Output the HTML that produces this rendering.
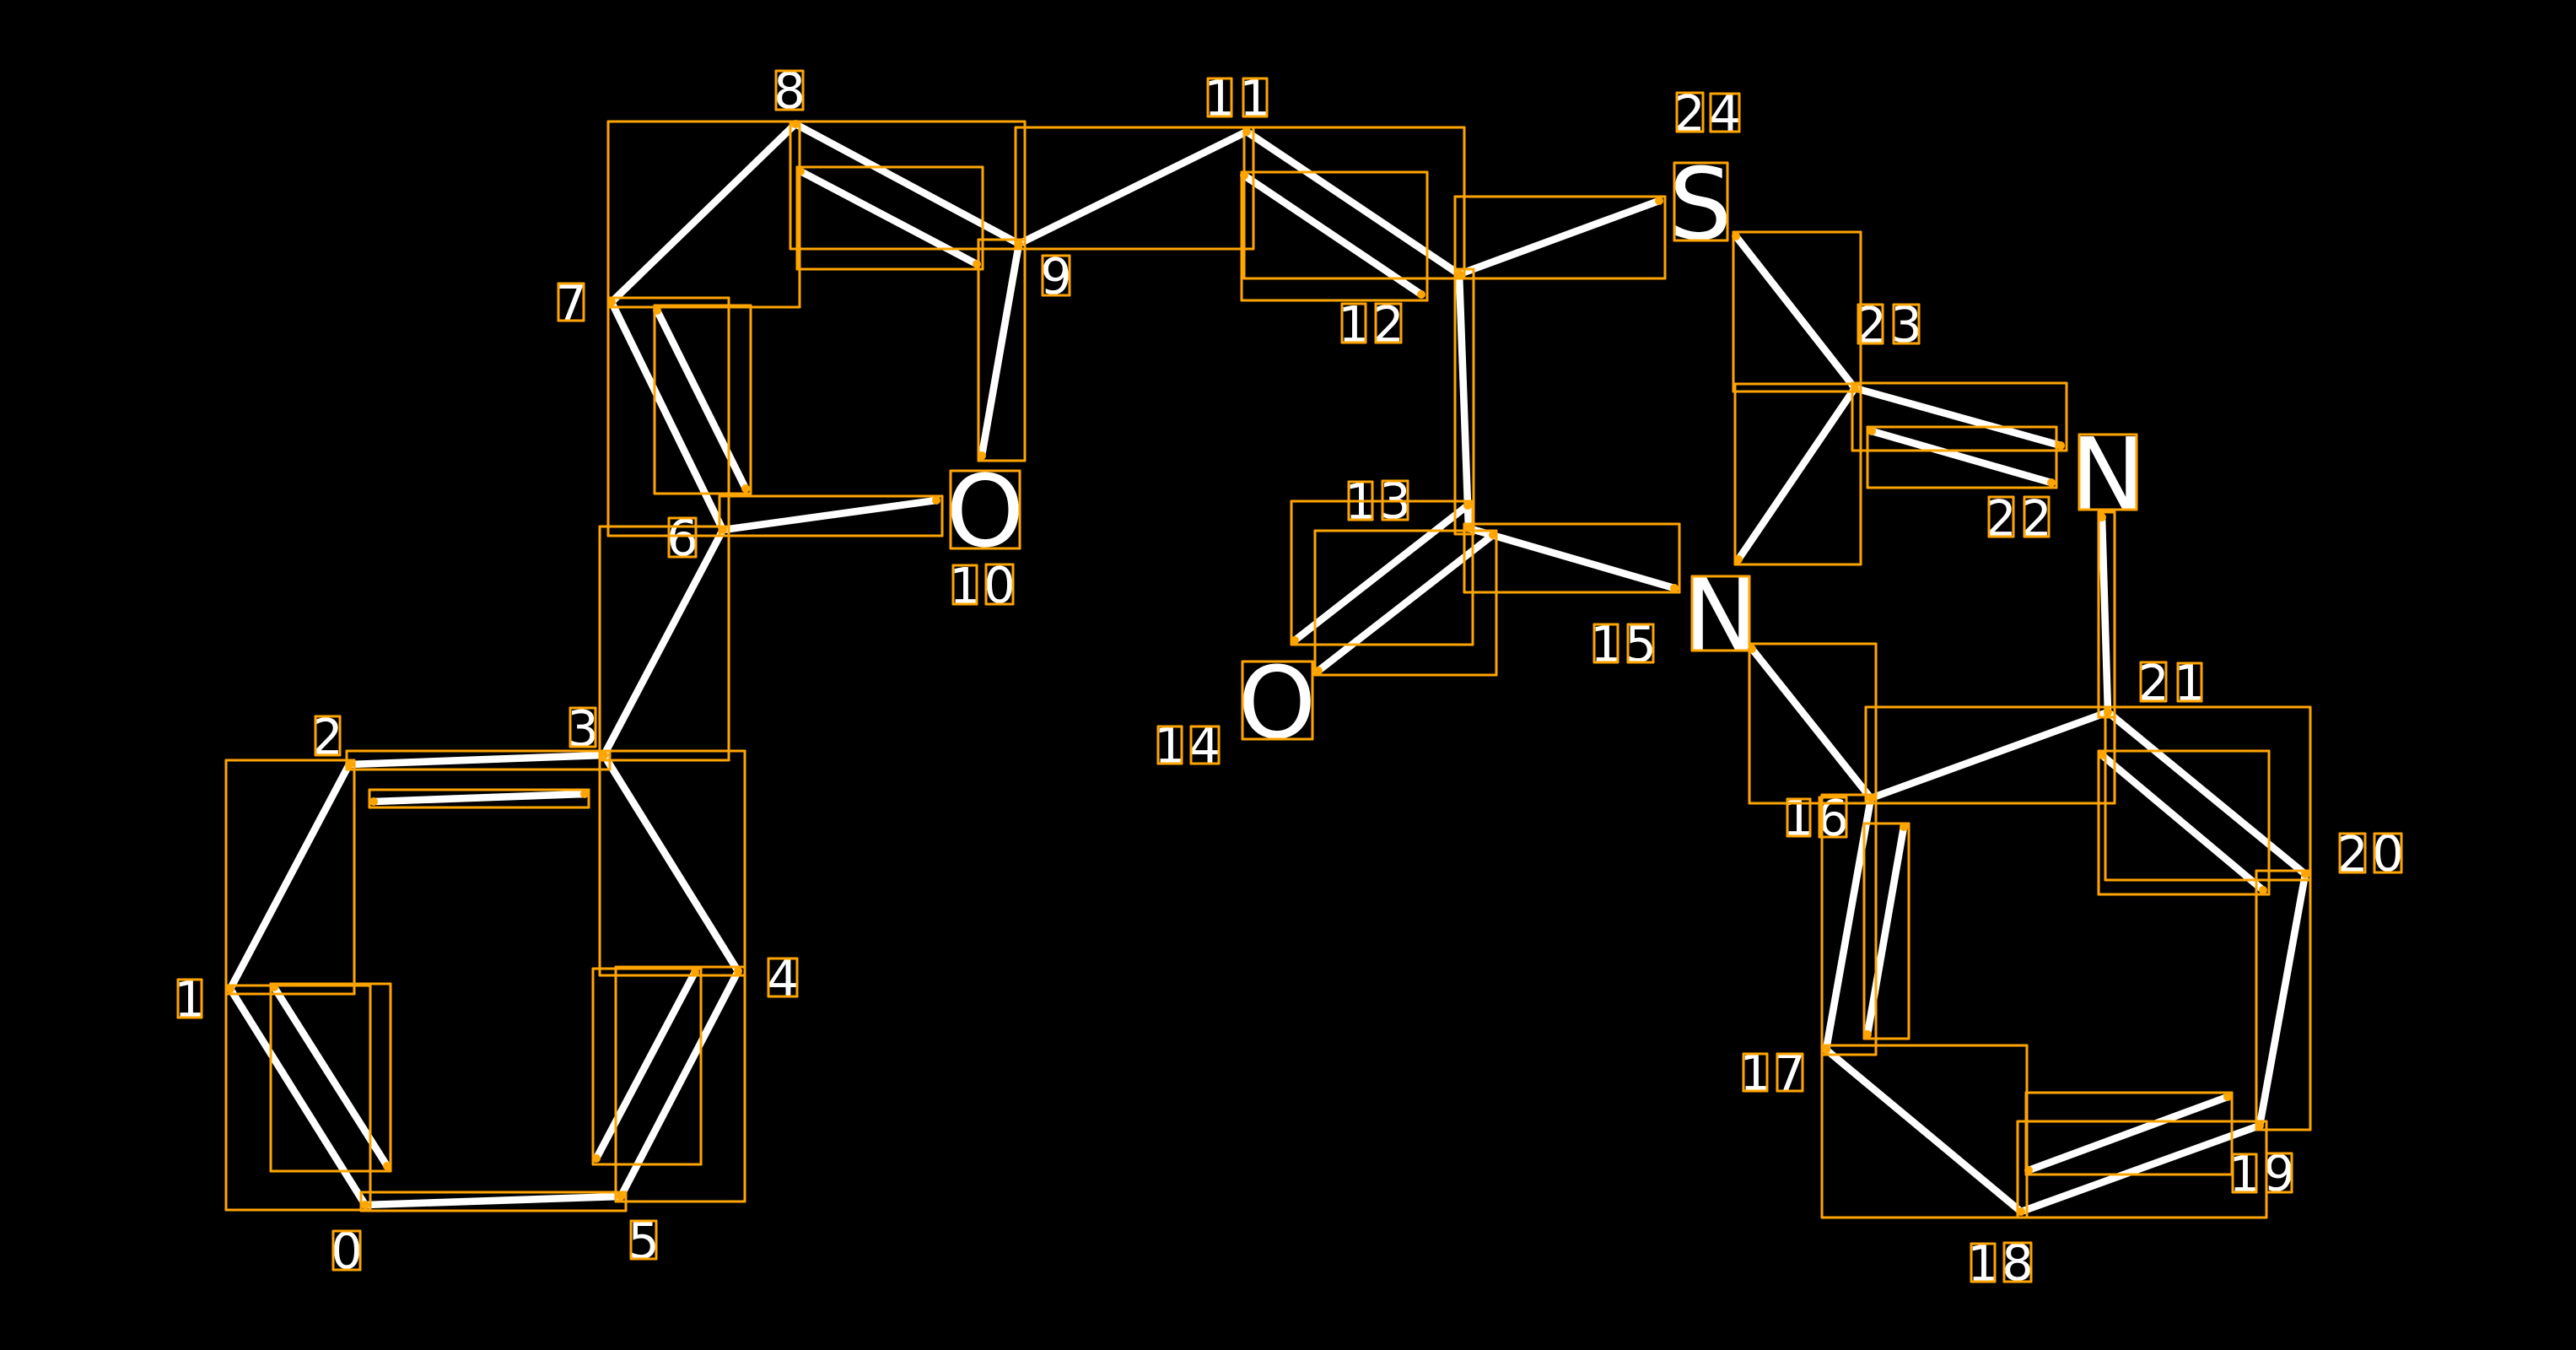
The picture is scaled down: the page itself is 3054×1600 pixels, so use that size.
<!DOCTYPE html>
<html><head><meta charset="utf-8"><style>
html,body{margin:0;padding:0;background:#000;width:3054px;height:1600px;overflow:hidden}
svg{display:block}
.l line{stroke:#fff;stroke-width:8.6;stroke-linecap:butt}
.r rect{fill:none;stroke:#ffa500;stroke-width:3;stroke-linejoin:round;shape-rendering:crispEdges}
.d circle{fill:#ffa500}
.t text{font-family:"DejaVu Sans",sans-serif;fill:#fff;font-size:59px;text-anchor:middle}
.t text.b{font-size:118px}
</style></head><body>
<svg xmlns="http://www.w3.org/2000/svg" width="3054" height="1600" viewBox="0 0 3054 1600">
<rect width="3054" height="1600" fill="#000"/>
<g class="l">
<line x1="433" y1="1428" x2="273" y2="1172"/>
<line x1="459" y1="1382" x2="325" y2="1170"/>
<line x1="273" y1="1172" x2="414" y2="906"/>
<line x1="414" y1="906" x2="716" y2="895"/>
<line x1="443" y1="950" x2="693" y2="941"/>
<line x1="716" y1="895" x2="875" y2="1151"/>
<line x1="875" y1="1151" x2="736" y2="1418"/>
<line x1="824" y1="1152" x2="707" y2="1373"/>
<line x1="736" y1="1418" x2="433" y2="1428"/>
<line x1="716" y1="895" x2="857" y2="628"/>
<line x1="857" y1="628" x2="725" y2="358"/>
<line x1="884" y1="579" x2="779" y2="368"/>
<line x1="725" y1="358" x2="943" y2="147"/>
<line x1="943" y1="147" x2="1208" y2="289"/>
<line x1="949" y1="203" x2="1158" y2="313"/>
<line x1="1208" y1="289" x2="1164" y2="540"/>
<line x1="857" y1="628" x2="1110" y2="593"/>
<line x1="1208" y1="289" x2="1478" y2="156"/>
<line x1="1478" y1="156" x2="1730" y2="325"/>
<line x1="1475" y1="208" x2="1685" y2="349"/>
<line x1="1730" y1="325" x2="1967" y2="238"/>
<line x1="1730" y1="325" x2="1741" y2="626"/>
<line x1="1740" y1="599" x2="1535" y2="759"/>
<line x1="1770" y1="634" x2="1563" y2="795"/>
<line x1="1741" y1="626" x2="1985" y2="697"/>
<line x1="2077" y1="769" x2="2218" y2="946"/>
<line x1="2218" y1="946" x2="2499" y2="844"/>
<line x1="2499" y1="844" x2="2733" y2="1036"/>
<line x1="2492" y1="895" x2="2683" y2="1055"/>
<line x1="2733" y1="1036" x2="2679" y2="1334"/>
<line x1="2679" y1="1334" x2="2396" y2="1436"/>
<line x1="2641" y1="1300" x2="2405" y2="1387"/>
<line x1="2396" y1="1436" x2="2165" y2="1244"/>
<line x1="2165" y1="1244" x2="2218" y2="946"/>
<line x1="2214" y1="1226" x2="2257" y2="980"/>
<line x1="2499" y1="844" x2="2492" y2="613"/>
<line x1="2199" y1="460" x2="2443" y2="528"/>
<line x1="2219" y1="511" x2="2432" y2="572"/>
<line x1="2199" y1="460" x2="2058" y2="280"/>
<line x1="2199" y1="460" x2="2061" y2="663"/>
</g>
<g class="t">
<text x="411" y="1503">0</text>
<text x="225" y="1205">1</text>
<text x="388" y="894">2</text>
<text x="691" y="884">3</text>
<text x="928" y="1180">4</text>
<text x="763" y="1491">5</text>
<text x="809" y="658">6</text>
<text x="677" y="380">7</text>
<text x="936" y="128">8</text>
<text x="1252" y="348">9</text>
<text class="b" x="1168" y="647">O</text>
<text x="1144" y="715">1</text><text x="1185" y="714">0</text>
<text x="1446" y="137">1</text><text x="1488" y="137">1</text>
<text x="1605" y="405">1</text><text x="1646" y="405">2</text>
<text x="1613" y="615">1</text><text x="1654" y="614">3</text>
<text class="b" x="1514" y="874">O</text>
<text x="1387" y="904">1</text><text x="1428" y="904">4</text>
<text x="1904" y="784">1</text><text x="1945" y="784">5</text>
<text class="b" x="2040" y="770">N</text>
<text x="2132" y="990">1</text><text x="2173" y="990">6</text>
<text x="2081" y="1292">1</text><text x="2122" y="1292">7</text>
<text x="2351" y="1518">1</text><text x="2392" y="1517">8</text>
<text x="2661" y="1412">1</text><text x="2702" y="1411">9</text>
<text x="2789" y="1033">2</text><text x="2831" y="1032">0</text>
<text x="2553" y="830">2</text><text x="2596" y="830">1</text>
<text x="2372" y="635">2</text><text x="2414" y="635">2</text>
<text x="2218" y="406">2</text><text x="2260" y="405">3</text>
<text class="b" x="2499" y="603">N</text>
<text x="2003" y="155">2</text><text x="2045" y="155">4</text>
<text class="b" x="2016" y="283">S</text>
</g>
<g class="r">
<rect x="268" y="1168" width="171" height="266"/>
<rect x="321" y="1166" width="142" height="222"/>
<rect x="268" y="901" width="152" height="277"/>
<rect x="411" y="890" width="312" height="22"/>
<rect x="438" y="936" width="260" height="21"/>
<rect x="711" y="890" width="172" height="266"/>
<rect x="730" y="1146" width="153" height="278"/>
<rect x="703" y="1148" width="128" height="232"/>
<rect x="428" y="1413" width="314" height="22"/>
<rect x="711" y="624" width="153" height="277"/>
<rect x="721" y="353" width="143" height="282"/>
<rect x="776" y="362" width="114" height="223"/>
<rect x="721" y="144" width="227" height="220"/>
<rect x="937" y="144" width="278" height="151"/>
<rect x="945" y="198" width="220" height="121"/>
<rect x="1160" y="284" width="55" height="262"/>
<rect x="853" y="588" width="264" height="47"/>
<rect x="1204" y="151" width="282" height="144"/>
<rect x="1475" y="151" width="261" height="179"/>
<rect x="1472" y="204" width="220" height="152"/>
<rect x="1725" y="233" width="249" height="97"/>
<rect x="1725" y="319" width="22" height="314"/>
<rect x="1531" y="594" width="215" height="170"/>
<rect x="1559" y="629" width="215" height="171"/>
<rect x="1736" y="621" width="255" height="81"/>
<rect x="2074" y="763" width="150" height="189"/>
<rect x="2212" y="838" width="295" height="114"/>
<rect x="2496" y="838" width="243" height="205"/>
<rect x="2488" y="890" width="202" height="170"/>
<rect x="2675" y="1032" width="64" height="307"/>
<rect x="2392" y="1329" width="295" height="114"/>
<rect x="2402" y="1295" width="244" height="97"/>
<rect x="2160" y="1239" width="243" height="204"/>
<rect x="2160" y="942" width="64" height="308"/>
<rect x="2210" y="976" width="53" height="255"/>
<rect x="2488" y="607" width="19" height="243"/>
<rect x="2196" y="454" width="254" height="80"/>
<rect x="2214" y="506" width="224" height="72"/>
<rect x="2055" y="275" width="151" height="189"/>
<rect x="2057" y="455" width="149" height="214"/>
<rect x="395" y="1459" width="32" height="46"/>
<rect x="211" y="1161" width="28" height="45"/>
<rect x="374" y="849" width="29" height="46"/>
<rect x="676" y="839" width="30" height="46"/>
<rect x="911" y="1136" width="34" height="45"/>
<rect x="748" y="1447" width="30" height="45"/>
<rect x="793" y="614" width="32" height="46"/>
<rect x="662" y="336" width="30" height="44"/>
<rect x="920" y="84" width="32" height="46"/>
<rect x="1236" y="303" width="32" height="47"/>
<rect x="1127" y="558" width="82" height="92"/>
<rect x="1130" y="670" width="28" height="46"/>
<rect x="1169" y="669" width="32" height="47"/>
<rect x="1432" y="93" width="28" height="45"/>
<rect x="1474" y="93" width="28" height="45"/>
<rect x="1591" y="360" width="28" height="46"/>
<rect x="1631" y="360" width="30" height="46"/>
<rect x="1599" y="571" width="28" height="45"/>
<rect x="1639" y="570" width="30" height="46"/>
<rect x="1473" y="784" width="83" height="92"/>
<rect x="1373" y="861" width="28" height="44"/>
<rect x="1412" y="861" width="33" height="44"/>
<rect x="1890" y="740" width="28" height="45"/>
<rect x="1930" y="740" width="30" height="45"/>
<rect x="2006" y="683" width="68" height="88"/>
<rect x="2119" y="947" width="27" height="44"/>
<rect x="2157" y="945" width="32" height="47"/>
<rect x="2067" y="1249" width="28" height="44"/>
<rect x="2107" y="1249" width="30" height="44"/>
<rect x="2337" y="1474" width="28" height="45"/>
<rect x="2376" y="1473" width="32" height="46"/>
<rect x="2647" y="1368" width="28" height="45"/>
<rect x="2687" y="1367" width="30" height="46"/>
<rect x="2774" y="988" width="30" height="46"/>
<rect x="2815" y="988" width="32" height="46"/>
<rect x="2538" y="785" width="30" height="46"/>
<rect x="2582" y="786" width="28" height="45"/>
<rect x="2358" y="589" width="29" height="47"/>
<rect x="2400" y="589" width="29" height="47"/>
<rect x="2465" y="515" width="68" height="89"/>
<rect x="2203" y="361" width="29" height="46"/>
<rect x="2245" y="361" width="30" height="46"/>
<rect x="1988" y="110" width="31" height="46"/>
<rect x="2028" y="111" width="34" height="45"/>
<rect x="1985" y="193" width="63" height="92"/>
</g>
<g class="d">
<circle cx="433" cy="1428" r="5"/><circle cx="273" cy="1172" r="5"/><circle cx="414" cy="906" r="5"/><circle cx="716" cy="895" r="5"/><circle cx="875" cy="1151" r="5"/><circle cx="736" cy="1418" r="5"/>
<circle cx="459" cy="1382" r="5"/><circle cx="325" cy="1170" r="5"/><circle cx="443" cy="950" r="5"/><circle cx="693" cy="941" r="5"/><circle cx="824" cy="1152" r="5"/><circle cx="707" cy="1373" r="5"/>
<circle cx="857" cy="628" r="5"/><circle cx="725" cy="358" r="5"/><circle cx="943" cy="147" r="5"/><circle cx="1208" cy="289" r="5"/><circle cx="1164" cy="540" r="5"/><circle cx="1110" cy="593" r="5"/>
<circle cx="779" cy="368" r="5"/><circle cx="884" cy="579" r="5"/><circle cx="949" cy="203" r="5"/><circle cx="1158" cy="313" r="5"/>
<circle cx="1478" cy="156" r="5"/><circle cx="1730" cy="325" r="5"/><circle cx="1475" cy="208" r="5"/><circle cx="1685" cy="349" r="5"/><circle cx="1967" cy="238" r="5"/>
<circle cx="1741" cy="626" r="5"/><circle cx="1740" cy="599" r="5"/><circle cx="1535" cy="759" r="5"/><circle cx="1770" cy="634" r="5"/><circle cx="1563" cy="795" r="5"/><circle cx="1985" cy="697" r="5"/>
<circle cx="2077" cy="769" r="5"/><circle cx="2218" cy="946" r="5"/><circle cx="2499" cy="844" r="5"/><circle cx="2733" cy="1036" r="5"/><circle cx="2679" cy="1334" r="5"/><circle cx="2396" cy="1436" r="5"/><circle cx="2165" cy="1244" r="5"/>
<circle cx="2492" cy="895" r="5"/><circle cx="2683" cy="1055" r="5"/><circle cx="2641" cy="1300" r="5"/><circle cx="2405" cy="1387" r="5"/><circle cx="2214" cy="1226" r="5"/><circle cx="2257" cy="980" r="5"/>
<circle cx="2492" cy="613" r="5"/><circle cx="2199" cy="460" r="5"/><circle cx="2443" cy="528" r="5"/><circle cx="2219" cy="511" r="5"/><circle cx="2432" cy="572" r="5"/><circle cx="2058" cy="280" r="5"/><circle cx="2061" cy="663" r="5"/>
</g>
</svg>
</body></html>
